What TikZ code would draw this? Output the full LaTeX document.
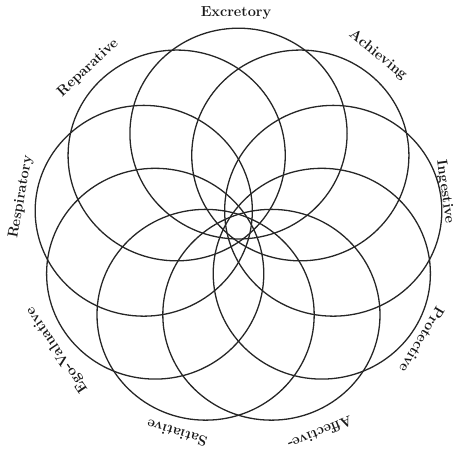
\documentclass[tikz,border=0pt]{standalone}
\begin{document}
\begin{tikzpicture}[x=1pt,y=1pt,
  ring/.style={draw=black!85, line width=1.3pt},
  lab/.style={font=\fontsize{14.5}{16}\selectfont\bfseries, text=black!90, inner sep=0pt}]
\useasboundingbox (0,0) rectangle (459,458);
\coordinate (o) at (238.5,231);
\foreach \a [count=\i] in {90,50,10,-30,-70,-110,-150,-190,-230}{
  \draw[ring] ({238.5+1.03*93.4*cos(\a)},{231+93.4*sin(\a)}) ellipse [x radius=108.6, y radius=105.4];
}
\foreach \x/\y/\r/\t/\n in {236/13/0/Excretory/l1,
  378/55/-39/Achieving/l2,
  445/192/-82/Ingestive/l3,
  422/340/-121/Protective/l4,
  320/433/-158/Affective-/l5,
  177/433/163/Satiative/l6,
  57/350/124/Ego-Valuative/l7,
  21/197/80/Respiratory/l8,
  88/68/43/Reparative/l9}{
  \node[lab, rotate=\r] (\n) at (\x,458-\y) {\t};
}
\end{tikzpicture}
\end{document}
